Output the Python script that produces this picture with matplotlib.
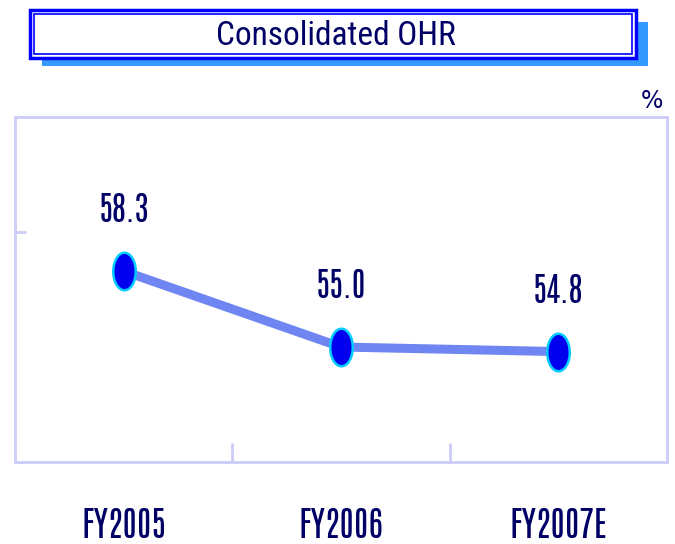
import numpy as np
import matplotlib.pyplot as plt
from matplotlib.patches import Rectangle
from matplotlib.path import Path

# ---------------------------------------------------------
# Data
# ---------------------------------------------------------

years = ["FY2005", "FY2006", "FY2007E"]
ohr = [58.3, 55.0, 54.8]
value_labels = ["58.3", "55.0", "54.8"]

NAVY = "#000066"
FRAME = "#CCCCF8"

narrow = ["Antonio", "Sofia Sans Extra Condensed", "DejaVu Sans"]
title_font = ["Roboto Condensed", "DejaVu Sans"]

# tall ellipse marker
t = np.linspace(0, 2 * np.pi, 60)
ellipse = Path(np.column_stack([0.6 * np.cos(t), np.sin(t)]), closed=True)

fig = plt.figure(figsize=(6.75, 5.44), dpi=100)
W, H = 675, 544

# ---------------------------------------------------------
# Title box with drop shadow
# ---------------------------------------------------------

def box(x0, y0, x1, y1, **kw):
    fig.patches.append(Rectangle((x0 / W, 1 - y1 / H), (x1 - x0) / W, (y1 - y0) / H,
                                 transform=fig.transFigure, **kw))

box(42, 22, 648, 66, facecolor="#3399FF", edgecolor="none")
box(30, 10, 636, 58, facecolor="white", edgecolor="#0000FF", linewidth=2.5)
box(34, 14, 632, 54, facecolor="none", edgecolor="#0000FF", linewidth=1.2)

fig.text(336 / W, 1 - 36 / H, "Consolidated OHR", ha="center", va="center",
         fontsize=24, color=NAVY, family=title_font)

fig.text(652 / W, 1 - 101 / H, "%", ha="center", va="center",
         fontsize=17, color=NAVY)

# ---------------------------------------------------------
# Line chart
# ---------------------------------------------------------

ax = fig.add_axes([15 / W, 1 - 462 / H, 652 / W, 345 / H])

x = np.arange(len(years))

ax.plot(x, ohr, color="#6F86F2", linewidth=6.5, solid_capstyle="butt", zorder=2)
ax.plot(x, ohr, linestyle="none", marker=ellipse, markersize=27,
        markerfacecolor="#0000EE", markeredgecolor="#00CCFF",
        markeredgewidth=1.8, zorder=3)

for xi, yi, lab in zip(x, ohr, value_labels):
    ax.annotate(lab, (xi, yi), xytext=(0, 44), textcoords="offset points",
                ha="center", va="center", fontsize=24, color=NAVY,
                family=narrow)

ax.set_xlim(-0.5, 2.5)
ax.set_ylim(50, 65)

ax.set_yticks([60])
ax.set_yticklabels([])
ax.set_xticks([0.5, 1.5])
ax.set_xticklabels([])
ax.tick_params(axis="y", direction="in", length=8, width=2, color=FRAME)
ax.tick_params(axis="x", direction="in", length=14, width=2, color=FRAME)

for side in ax.spines.values():
    side.set_color(FRAME)
    side.set_linewidth(2)

for xi, lab in zip(x, years):
    ax.annotate(lab, (xi, 0), xycoords=("data", "axes fraction"),
                xytext=(0, -45), textcoords="offset points",
                ha="center", va="center", fontsize=25, color=NAVY,
                family=narrow)

plt.savefig("out.png", dpi=100)
